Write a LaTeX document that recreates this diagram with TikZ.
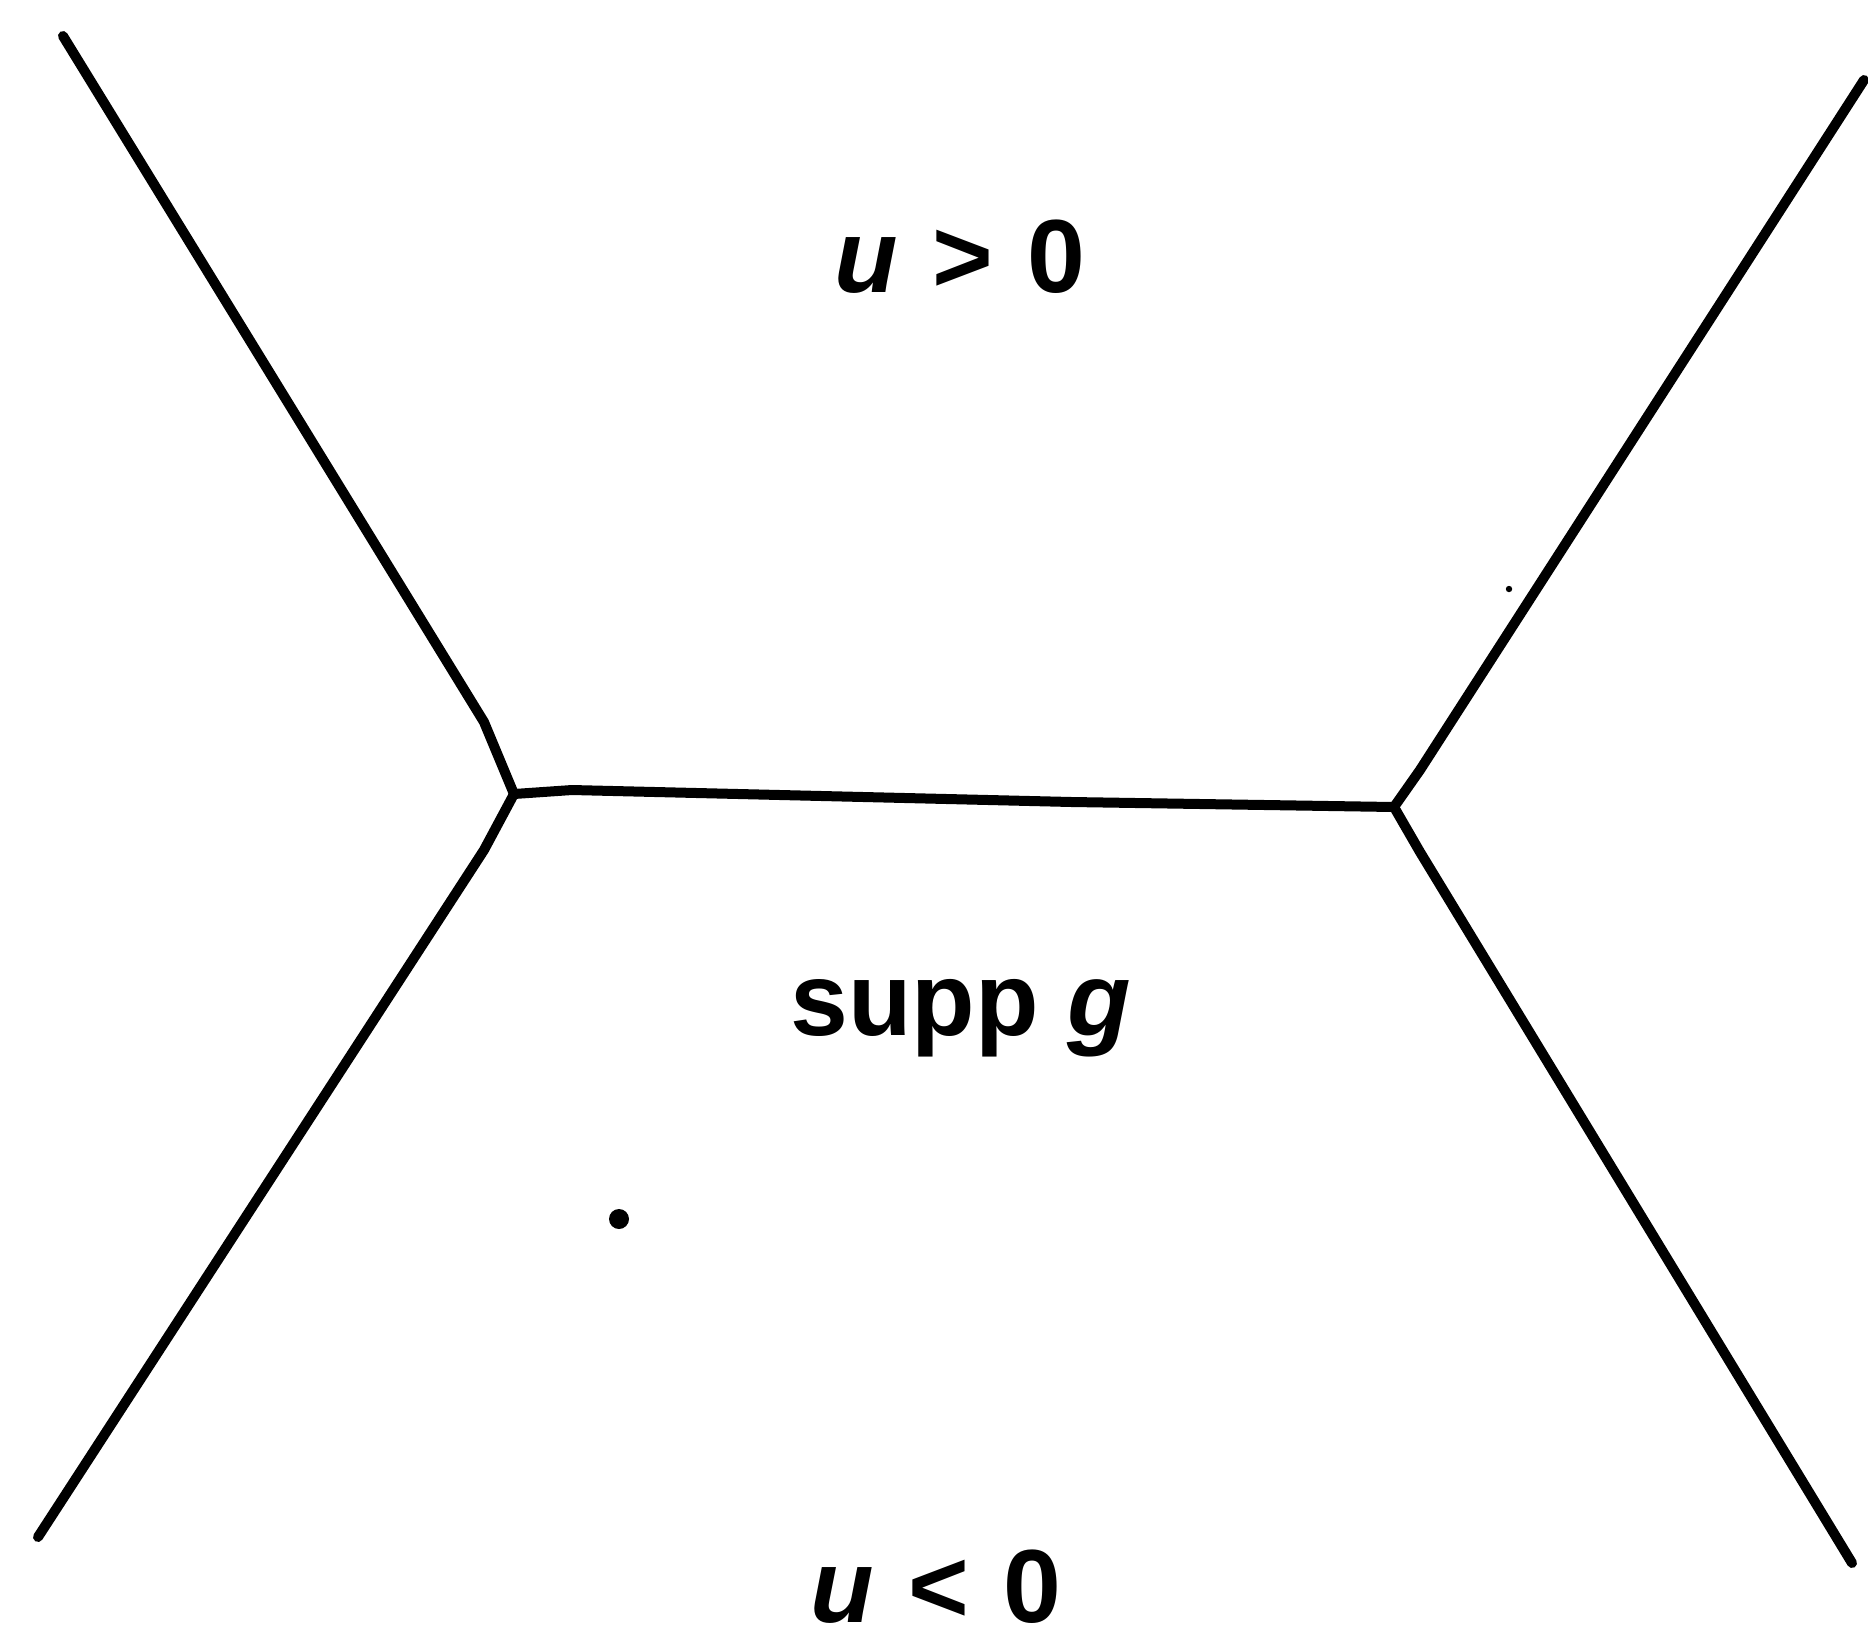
\documentclass[tikz,border=0pt]{standalone}
\usepackage{fontspec}
\setmainfont{Liberation Sans}
\begin{document}
\begin{tikzpicture}[x=0.5pt,y=-0.5pt,
  curve/.style={line width=5pt,line cap=round,line join=round},
  lbl/.style={font=\fontsize{52}{60}\selectfont\bfseries,inner sep=0pt,anchor=base}]
\useasboundingbox (0,0) rectangle (1868,1640);
\coordinate (J1) at (514,794);
\coordinate (J2) at (1394,807);
\coordinate (TL) at (63,36);
\coordinate (BL) at (38,1537);
\coordinate (TR) at (1864,80);
\coordinate (BR) at (1852,1563);
% top-left branch
\draw[curve] (TL) -- (484,722) -- (J1);
% bottom-left branch
\draw[curve] (J1) -- (484,850) -- (BL);
% middle edge
\draw[curve] (J1) -- (572,790) -- (1072,802) -- (J2);
% top-right branch
\draw[curve] (J2) -- (1420,770) -- (TR);
% bottom-right branch
\draw[curve] (J2) -- (1420,852) -- (BR);
% labels
\node[lbl] (up) at (960,292) {\textit{u}\,\,>\,\,0};
\node[lbl] (supp) at (961,1035) {supp \textit{g}};
\node[lbl] (down) at (936,1622) {\textit{u}\,\,<\,\,0};
% dots
\fill (619,1219) circle[radius=5pt];
\fill (1509,589) circle[radius=1.6pt];
\end{tikzpicture}
\end{document}
